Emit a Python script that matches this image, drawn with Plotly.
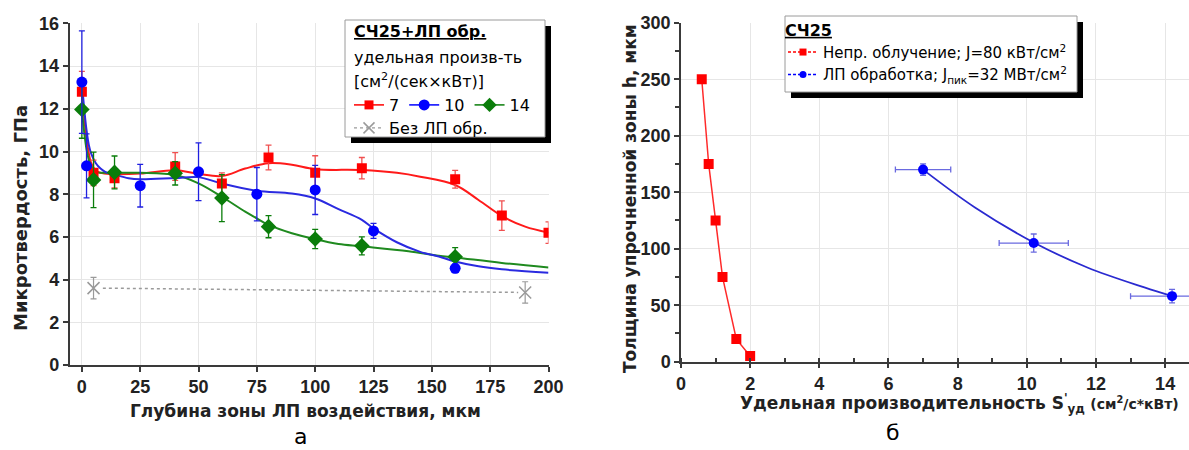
import plotly.graph_objects as go

W, H = 1189, 450


def px(x):
    return x / W


def py(y):
    return 1 - y / H


# ---------------- Left panel (а) data ----------------
depth_red = [0, 5, 14, 40, 60, 80, 100, 120, 160, 180, 200]
hv_red = [12.8, 9.0, 8.75, 9.3, 8.5, 9.72, 9.0, 9.22, 8.7, 7.0, 6.2]
err_red = [0.95, 0.6, 0.45, 0.65, 0.5, 0.58, 0.8, 0.5, 0.42, 0.69, 0.5]

depth_blue = [0, 2, 25, 50, 75, 100, 125, 160]
hv_blue = [13.25, 9.33, 8.4, 9.05, 8.0, 8.2, 6.28, 4.53]
err_blue = [2.4, 1.5, 1.0, 1.35, 1.25, 1.15, 0.35, 0.2]

depth_green = [0, 5, 14, 40, 60, 80, 100, 120, 160]
hv_green = [11.97, 8.67, 9.02, 8.98, 7.82, 6.48, 5.9, 5.58, 5.07]
err_green = [1.35, 1.3, 0.77, 0.55, 1.1, 0.52, 0.45, 0.42, 0.43]

depth_gray = [5, 190]
hv_gray = [3.6, 3.4]
err_gray = [0.5, 0.5]
gray_line_x = [9, 187]
gray_line_y = [3.6, 3.4]

# fitted curves
fit_red_x = [0, 1, 2, 3, 4, 6, 8, 12, 25, 40, 50, 60, 70, 80, 90, 100, 120, 135, 145, 160, 170, 180, 190, 200]
fit_red_y = [12.8, 11.6, 10.6, 9.9, 9.45, 9.1, 9.0, 8.95, 8.97, 9.12, 8.95, 8.85, 9.2, 9.45, 9.38, 9.17, 9.13, 9.0, 8.82, 8.43, 7.73, 6.98, 6.48, 6.2]

fit_blue_x = [0, 1, 2, 3, 4, 6, 8, 10, 14, 20, 25, 40, 50, 60, 75, 90, 100, 110, 120, 125, 135, 145, 153, 160, 170, 180, 200]
fit_blue_y = [13.25, 12.0, 11.0, 10.3, 9.9, 9.45, 9.2, 9.05, 8.92, 8.75, 8.7, 8.76, 8.8, 8.5, 8.16, 8.03, 7.8, 7.3, 6.8, 6.4, 5.75, 5.3, 5.08, 4.85, 4.62, 4.48, 4.32]

fit_green_x = [0, 1, 2, 3, 4, 6, 10, 14, 25, 40, 50, 60, 70, 75, 80, 90, 100, 110, 120, 140, 153, 160, 180, 200]
fit_green_y = [11.97, 10.9, 10.1, 9.6, 9.3, 9.05, 9.0, 9.0, 9.0, 8.9, 8.51, 7.88, 7.18, 6.87, 6.56, 6.17, 5.89, 5.67, 5.56, 5.33, 5.12, 5.04, 4.78, 4.57]

x_ticks_left = [0, 25, 50, 75, 100, 125, 150, 175, 200]
y_ticks_left = [0, 2, 4, 6, 8, 10, 12, 14, 16]

# ---------------- Right panel (б) data ----------------
sp_red = [0.6, 0.8, 1.0, 1.2, 1.6, 2.0]
h_red = [250, 175, 125, 75, 20, 5]

sp_blue = [7.0, 10.2, 14.2]
h_blue = [170, 105, 58]
sp_blue_err = [0.8, 1.0, 1.2]
h_blue_err = [5, 8, 6]
fit_sp_blue = [7.0, 8.5, 10.2, 11.75, 13.4, 14.2]
fit_h_blue = [170, 136.5, 105.5, 83.4, 65.7, 58]

x_ticks_right = [0, 2, 4, 6, 8, 10, 12, 14]
y_ticks_right = [0, 50, 100, 150, 200, 250, 300]

RED = "#ff0000"
BLUE = "#0000ff"
GREEN = "#0a7d0a"
GRAY = "#9a9a9a"
FONT = "DejaVu Sans"
TICKFONT = "Liberation Sans"

fig = go.Figure()

# ---- left fit curves
fig.add_trace(go.Scatter(x=fit_red_x, y=fit_red_y, mode="lines", line=dict(color="#ff1a1a", width=2, shape="spline"),
                         showlegend=False, xaxis="x", yaxis="y"))
fig.add_trace(go.Scatter(x=fit_green_x, y=fit_green_y, mode="lines", line=dict(color="#1f8a1f", width=2, shape="spline"),
                         showlegend=False, xaxis="x", yaxis="y"))
fig.add_trace(go.Scatter(x=fit_blue_x, y=fit_blue_y, mode="lines", line=dict(color="#2a2ae0", width=2, shape="spline"),
                         showlegend=False, xaxis="x", yaxis="y"))
fig.add_trace(go.Scatter(x=gray_line_x, y=gray_line_y, mode="lines", line=dict(color=GRAY, width=1.5, dash="3px,3px"),
                         showlegend=False, xaxis="x", yaxis="y"))

# ---- left markers with error bars
fig.add_trace(go.Scatter(x=depth_red, y=hv_red, mode="markers",
                         marker=dict(symbol="square", size=10, color=RED),
                         error_y=dict(type="data", array=err_red, color="#f05050", thickness=1.3, width=3),
                         showlegend=False, xaxis="x", yaxis="y"))
fig.add_trace(go.Scatter(x=depth_green, y=hv_green, mode="markers",
                         marker=dict(symbol="diamond", size=12, color=GREEN),
                         error_y=dict(type="data", array=err_green, color=GREEN, thickness=1.3, width=3),
                         showlegend=False, xaxis="x", yaxis="y"))
fig.add_trace(go.Scatter(x=depth_blue, y=hv_blue, mode="markers",
                         marker=dict(symbol="circle", size=11, color=BLUE),
                         error_y=dict(type="data", array=err_blue, color="#2020e0", thickness=1.3, width=3),
                         showlegend=False, xaxis="x", yaxis="y"))
fig.add_trace(go.Scatter(x=depth_gray, y=hv_gray, mode="markers",
                         marker=dict(symbol="x-thin", size=12, color=GRAY, line=dict(color=GRAY, width=1.5)),
                         error_y=dict(type="data", array=err_gray, color=GRAY, thickness=1.2, width=3),
                         showlegend=False, xaxis="x", yaxis="y"))

# ---- right panel
fig.add_trace(go.Scatter(x=sp_red, y=h_red, mode="lines+markers",
                         line=dict(color="#ff2a2a", width=1.5),
                         marker=dict(symbol="square", size=10, color=RED),
                         showlegend=False, xaxis="x2", yaxis="y2"))
fig.add_trace(go.Scatter(x=fit_sp_blue, y=fit_h_blue, mode="lines", line=dict(color="#2a2ad0", width=1.8, shape="spline"),
                         showlegend=False, xaxis="x2", yaxis="y2"))
fig.add_trace(go.Scatter(x=sp_blue, y=h_blue, mode="markers",
                         marker=dict(symbol="circle", size=10, color=BLUE),
                         error_x=dict(type="data", array=sp_blue_err, color="#6a6ae0", thickness=1.3, width=3),
                         error_y=dict(type="data", array=h_blue_err, color="#6a6ae0", thickness=1.3, width=3),
                         showlegend=False, xaxis="x2", yaxis="y2"))

# ---- legend entries
fig.add_trace(go.Scatter(x=[None], y=[None], mode="lines+markers", name="7", legend="legend",
                         line=dict(color=RED, width=1.5), marker=dict(symbol="square", size=9, color=RED)))
fig.add_trace(go.Scatter(x=[None], y=[None], mode="lines+markers", name="10", legend="legend",
                         line=dict(color=BLUE, width=1.5), marker=dict(symbol="circle", size=11, color=BLUE)))
fig.add_trace(go.Scatter(x=[None], y=[None], mode="lines+markers", name="14", legend="legend",
                         line=dict(color=GREEN, width=1.5), marker=dict(symbol="diamond", size=11, color=GREEN)))
fig.add_trace(go.Scatter(x=[None], y=[None], mode="lines+markers", name="Без ЛП обр.", legend="legend2",
                         line=dict(color=GRAY, width=1.3, dash="3px,3px"),
                         marker=dict(symbol="x-thin", size=11, color=GRAY, line=dict(color=GRAY, width=1.5))))
fig.add_trace(go.Scatter(x=[None], y=[None], mode="lines+markers", name="Непр. облучение; J=80 кВт/см<sup>2</sup>",
                         legend="legend3", line=dict(color=RED, width=1.5, dash="3px,2px"),
                         marker=dict(symbol="square", size=7, color=RED), xaxis="x2", yaxis="y2"))
fig.add_trace(go.Scatter(x=[None], y=[None], mode="lines+markers", name="ЛП обработка; J<sub>пик</sub>=32 МВт/см<sup>2</sup>",
                         legend="legend3", line=dict(color=BLUE, width=1.5, dash="3px,2px"),
                         marker=dict(symbol="circle", size=7, color=BLUE), xaxis="x2", yaxis="y2"))

axis_common = dict(showline=True, linecolor="#3a3a3a", linewidth=1.5, ticks="outside", ticklen=5,
                   tickcolor="#3a3a3a", tickwidth=1.5, showgrid=True, gridcolor="#e6e6e6", gridwidth=1,
                   zeroline=False, automargin=False,
                   tickfont=dict(family=TICKFONT, size=18, color="#222", weight="bold"))

fig.update_layout(
    width=W, height=H, margin=dict(l=0, r=0, t=0, b=0, pad=0, autoexpand=False),
    paper_bgcolor="white", plot_bgcolor="white",
    font=dict(family=FONT, color="black"),
    xaxis=dict(domain=[px(69.5), px(548.5)], range=[-5.3, 200], tickvals=x_ticks_left, anchor="y", **axis_common),
    yaxis=dict(domain=[py(365), py(23.4)], range=[0, 16], tickvals=y_ticks_left, anchor="x", **axis_common),
    xaxis2=dict(domain=[px(681), 1.0], range=[0, 14.69], tickvals=x_ticks_right, anchor="y2",
                minor=dict(ticks="inside", ticklen=4, dtick=1, tick0=0, tickcolor="#3a3a3a", showgrid=False),
                **axis_common),
    yaxis2=dict(domain=[py(361.7), py(22.7)], range=[0, 300], tickvals=y_ticks_right, anchor="x2",
                minor=dict(ticks="outside", ticklen=4, dtick=25, tick0=0, tickcolor="#3a3a3a", showgrid=False),
                **axis_common),
    legend=dict(x=px(349), y=py(88), xanchor="left", yanchor="top", orientation="h",
                bgcolor="rgba(0,0,0,0)", borderwidth=0, itemwidth=30, tracegroupgap=0,
                font=dict(family=FONT, size=16, color="black")),
    legend2=dict(x=px(349), y=py(111), xanchor="left", yanchor="top", orientation="h",
                 bgcolor="rgba(0,0,0,0)", borderwidth=0, itemwidth=30,
                 font=dict(family=FONT, size=16, color="black")),
    legend3=dict(x=px(783), y=py(15), xanchor="left", yanchor="top", orientation="v",
                 bgcolor="rgba(0,0,0,0)", borderwidth=0, itemwidth=30, tracegroupgap=0,
                 title=dict(text="<b><u>СЧ25</u></b>", font=dict(family=FONT, size=16, color="black")),
                 font=dict(family=FONT, size=15, color="black")),
)

shapes = []
# left legend box with shadow
shapes.append(dict(type="rect", xref="paper", yref="paper", x0=px(351), x1=px(551), y0=py(143), y1=py(26),
                   fillcolor="black", line=dict(width=0), layer="above"))
shapes.append(dict(type="rect", xref="paper", yref="paper", x0=px(345), x1=px(545), y0=py(137), y1=py(20),
                   fillcolor="white", line=dict(color="#9a9a9a", width=1), layer="above"))
# right legend box with shadow
shapes.append(dict(type="rect", xref="paper", yref="paper", x0=px(791), x1=px(1083), y0=py(98), y1=py(22),
                   fillcolor="black", line=dict(width=0), layer="above"))
shapes.append(dict(type="rect", xref="paper", yref="paper", x0=px(785), x1=px(1077), y0=py(92), y1=py(16),
                   fillcolor="white", line=dict(color="#9a9a9a", width=1), layer="above"))
fig.update_layout(shapes=shapes)

ann = []
ann.append(dict(text="<b><u>СЧ25+ЛП обр.</u></b>", x=px(352), y=py(31), xanchor="left", yanchor="middle",
                font=dict(family=FONT, size=16, color="black")))
ann.append(dict(text="удельная произв-ть", x=px(352), y=py(57), xanchor="left", yanchor="middle",
                font=dict(family=FONT, size=16, color="black")))
ann.append(dict(text="[см<sup>2</sup>/(сек×кВт)]", x=px(352), y=py(80), xanchor="left", yanchor="middle",
                font=dict(family=FONT, size=16, color="black")))
ann.append(dict(text="<b>Глубина зоны ЛП воздействия, мкм</b>", x=px(305), y=py(411), xanchor="center", yanchor="middle",
                font=dict(family=FONT, size=17, color="#222")))
ann.append(dict(text="<b>Микротвердость, ГПа</b>", x=px(20), y=py(218), xanchor="center", yanchor="middle",
                textangle=-90, font=dict(family=FONT, size=18, color="#222")))
ann.append(dict(text="<b>Удельная производительность S<sup>'</sup><sub>уд</sub></b> <span style='font-size:14px'><b>(см<sup>2</sup>/с*кВт)</b></span>",
                x=px(959), y=py(403), xanchor="center", yanchor="middle",
                font=dict(family=FONT, size=17, color="#222")))
ann.append(dict(text="<b>Толщина упрочненной зоны h, мкм</b>", x=px(630), y=py(199), xanchor="center", yanchor="middle",
                textangle=-90, font=dict(family=FONT, size=17, color="#222")))
ann.append(dict(text="а", x=px(300), y=py(436), xanchor="center", yanchor="middle",
                font=dict(family=FONT, size=22, color="black")))
ann.append(dict(text="б", x=px(893), y=py(432), xanchor="center", yanchor="middle",
                font=dict(family=FONT, size=22, color="black")))
for a in ann:
    a.update(xref="paper", yref="paper", showarrow=False)
fig.update_layout(annotations=ann)

fig.write_html("out.html")
